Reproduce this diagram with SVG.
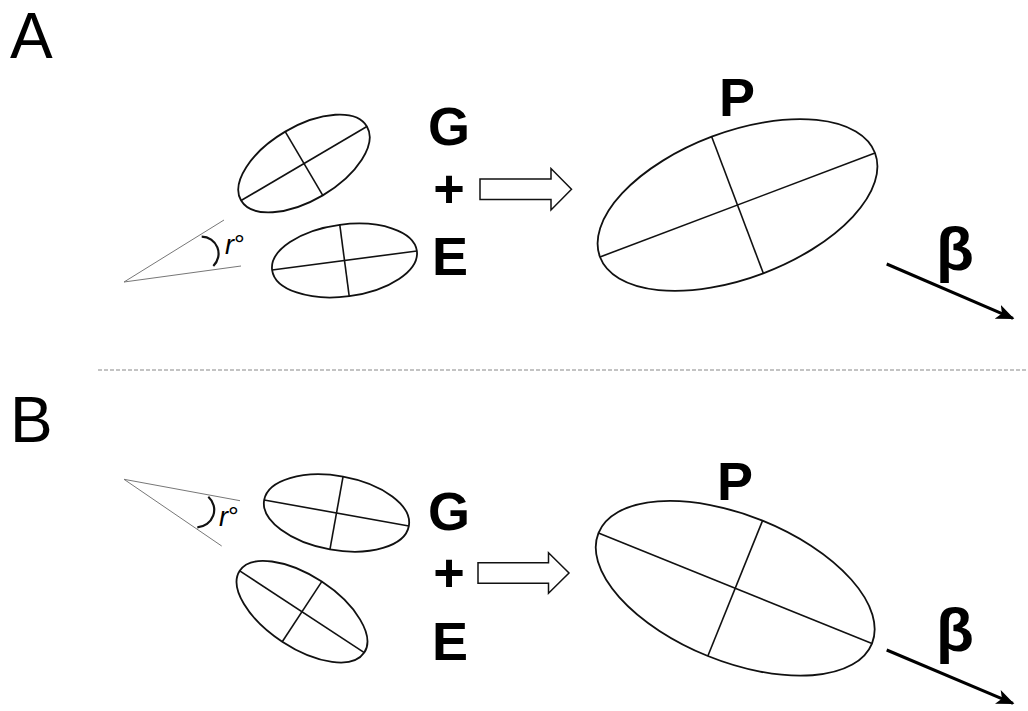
<svg xmlns="http://www.w3.org/2000/svg" width="1028" height="711" viewBox="0 0 1028 711">
  <style>
    .ell { fill: none; stroke: #111; stroke-width: 1.8; }
    .ax { stroke: #111; stroke-width: 1.6; }
    .ray { stroke: #777; stroke-width: 1; fill: none; }
    .arc { stroke: #111; stroke-width: 2.2; fill: none; }
    .panel { font-family: "Liberation Sans", Arial, sans-serif; font-size: 64px; fill: #000; }
    .lbl { font-family: "Liberation Sans", Arial, sans-serif; font-weight: bold; font-size: 54px; fill: #000; text-anchor: middle; }
    .beta { font-family: "Liberation Sans", Arial, sans-serif; font-weight: bold; font-size: 62px; fill: #000; text-anchor: middle; }
    .ang { font-family: "Liberation Sans", Arial, sans-serif; font-size: 27px; fill: #000; }
    .block { fill: #fff; stroke: #111; stroke-width: 1.5; stroke-linejoin: miter; }
    .vec { stroke: #000; stroke-width: 3; fill: none; }
    .sep { stroke: #888; stroke-width: 1.2; stroke-dasharray: 4 2; }
  </style>
  <defs>
    <marker id="head" viewBox="0 0 12 10" refX="11" refY="5" markerWidth="6" markerHeight="5" orient="auto" markerUnits="strokeWidth">
      <path d="M0,0 L12,5 L0,10 L3,5 Z" fill="#000"/>
    </marker>
  </defs>

  <!-- panel letters -->
  <text class="panel" x="10" y="58">A</text>
  <text class="panel" x="10" y="442">B</text>

  <!-- divider -->
  <line class="sep" x1="98" y1="370" x2="1028" y2="370"/>

  <!-- ===== Panel A ===== -->
  <g id="a-angle">
    <polyline class="ray" points="224,220 124,282 241,266"/>
    <path class="arc" d="M201.7,236.7 A17,17 0 0 1 213.3,266"/>
    <text class="ang" x="225" y="254"><tspan font-style="italic">r</tspan>°</text>
  </g>

  <g id="a-ellipse-g" transform="translate(304,163.5) rotate(-30.5)">
    <ellipse class="ell" cx="0" cy="0" rx="73" ry="37"/>
    <line class="ax" x1="-73" y1="0" x2="73" y2="0"/>
    <line class="ax" x1="0" y1="-37" x2="0" y2="37"/>
  </g>

  <g id="a-ellipse-e" transform="translate(344.5,260.5) rotate(-7.5)">
    <ellipse class="ell" cx="0" cy="0" rx="73" ry="36"/>
    <line class="ax" x1="-73" y1="0" x2="73" y2="0"/>
    <line class="ax" x1="0" y1="-36" x2="0" y2="36"/>
  </g>

  <g id="a-labels">
    <text class="lbl" x="449" y="145">G</text>
    <text class="lbl" x="449" y="207">+</text>
    <text class="lbl" x="450" y="275">E</text>
  </g>

  <g id="a-block-arrow">
    <path class="block" d="M480,179 L551,179 L551,168.5 L571.5,189.3 L551,210 L551,199.5 L480,199.5 Z"/>
  </g>

  <g id="a-ellipse-p">
    <text class="lbl" x="737" y="116">P</text>
    <g transform="translate(737.5,205) rotate(-20.7)">
      <ellipse class="ell" cx="0" cy="0" rx="147" ry="73"/>
      <line class="ax" x1="-147" y1="0" x2="147" y2="0"/>
      <line class="ax" x1="0" y1="-73" x2="0" y2="73"/>
    </g>
  </g>

  <g id="a-beta">
    <text class="beta" x="955" y="270">β</text>
  </g>

  <!-- ===== Panel B ===== -->
  <g id="b-angle">
    <polyline class="ray" points="240,500.7 124,479.3 221.7,546"/>
    <path class="arc" d="M208.3,496.7 A17.5,17.5 0 0 1 197.3,527.3"/>
    <text class="ang" x="219" y="526"><tspan font-style="italic">r</tspan>°</text>
  </g>

  <g id="b-ellipse-g" transform="translate(336.5,513) rotate(10.2)">
    <ellipse class="ell" cx="0" cy="0" rx="73.5" ry="37"/>
    <line class="ax" x1="-73.5" y1="0" x2="73.5" y2="0"/>
    <line class="ax" x1="0" y1="-37" x2="0" y2="37"/>
  </g>

  <g id="b-ellipse-e" transform="translate(302,611.7) rotate(33.3)">
    <ellipse class="ell" cx="0" cy="0" rx="74.5" ry="36"/>
    <line class="ax" x1="-74.5" y1="0" x2="74.5" y2="0"/>
    <line class="ax" x1="0" y1="-36" x2="0" y2="36"/>
  </g>

  <g id="b-labels">
    <text class="lbl" x="449" y="530">G</text>
    <text class="lbl" x="449" y="591">+</text>
    <text class="lbl" x="450" y="660">E</text>
  </g>

  <g id="b-block-arrow">
    <path class="block" d="M478,562.7 L548.5,562.7 L548.5,552.7 L569,573 L548.5,593.3 L548.5,583.3 L478,583.3 Z"/>
  </g>

  <g id="b-ellipse-p">
    <text class="lbl" x="735" y="500">P</text>
    <g transform="translate(735.2,588.3) rotate(22)">
      <ellipse class="ell" cx="0" cy="0" rx="147.5" ry="73"/>
      <line class="ax" x1="-147.5" y1="0" x2="147.5" y2="0"/>
      <line class="ax" x1="0" y1="-73" x2="0" y2="73"/>
    </g>
  </g>

  <g id="b-beta">
    <text class="beta" x="955" y="651">β</text>
  </g>

  <!-- direction vectors -->
  <g id="connectors">
    <line class="vec" x1="886.7" y1="264" x2="1013" y2="318.3" marker-end="url(#head)"/>
    <line class="vec" x1="886.7" y1="650" x2="1013" y2="703.3" marker-end="url(#head)"/>
  </g>
</svg>
